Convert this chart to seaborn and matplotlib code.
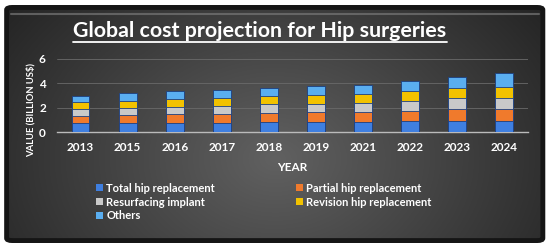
import numpy as np
import pandas as pd
import matplotlib
matplotlib.use("Agg")
import matplotlib.pyplot as plt
import seaborn as sns
from matplotlib.patches import FancyBboxPatch, Patch
from matplotlib.lines import Line2D

years = ["2013", "2015", "2016", "2017", "2018", "2019", "2021", "2022", "2023", "2024"]
series = ["Total hip replacement", "Partial hip replacement", "Resurfacing implant",
          "Revision hip replacement", "Others"]
total_hip = [0.70, 0.72, 0.74, 0.76, 0.80, 0.82, 0.84, 0.88, 0.90, 0.90]
partial_hip = [0.62, 0.65, 0.70, 0.72, 0.76, 0.78, 0.80, 0.88, 0.95, 0.96]
resurfacing = [0.58, 0.62, 0.64, 0.66, 0.70, 0.72, 0.74, 0.82, 0.90, 0.90]
revision = [0.54, 0.58, 0.62, 0.66, 0.68, 0.72, 0.74, 0.80, 0.87, 0.96]
others = [0.54, 0.60, 0.62, 0.64, 0.70, 0.74, 0.76, 0.84, 0.92, 1.08]
colors = ["#3f7fe0", "#f07a2c", "#c9c9c9", "#f2c200", "#5aaef0"]

sns.set_theme(style="dark")
plt.rcParams['font.family'] = ['Lato', 'DejaVu Sans']

fig = plt.figure(figsize=(5.5, 2.48), dpi=100)
fig.patch.set_facecolor("white")

# background panel with gradient
ax_bg = fig.add_axes([0, 0, 1, 1], zorder=-10)
ax_bg.set_xlim(0, 1); ax_bg.set_ylim(0, 1); ax_bg.axis("off")
gx = np.linspace(-1, 1, 400)
gy = np.linspace(-1, 1, 200)
GX, GY = np.meshgrid(gx, gy)
r = np.sqrt((GX * 0.95) ** 2 + ((GY - 0.3) * 0.55) ** 2)
val = 0.38 - 0.20 * np.clip(r, 0, 1.2)
img = np.dstack([val, val, val])
frame = FancyBboxPatch((0.012, 0.03), 0.975, 0.94,
                       boxstyle="round,pad=0,rounding_size=0.01",
                       transform=ax_bg.transAxes, facecolor="none",
                       edgecolor="#151515", linewidth=3.5)
im = ax_bg.imshow(img, extent=[0.012, 0.987, 0.03, 0.97], aspect="auto", zorder=0)
im.set_clip_path(frame)
ax_bg.add_patch(frame)
ax_bg.plot([0.02, 0.98], [0.945, 0.945], color="#777777", lw=1.5, alpha=0.7)

df = pd.DataFrame({"year": years, series[0]: total_hip, series[1]: partial_hip,
                   series[2]: resurfacing, series[3]: revision, series[4]: others})
cum = df[series].cumsum(axis=1)

ax = fig.add_axes([0.1036, 0.4677, 0.8564, 0.2953])
ax.set_facecolor("none")
for i in range(len(series) - 1, -1, -1):
    sns.barplot(x=df["year"], y=cum[series[i]], color=colors[i], ax=ax,
                width=0.38, edgecolor="#1c3f80", linewidth=0.6, saturation=1, zorder=3)
ax.set_ylim(0, 6)
ax.set_yticks([0, 2, 4, 6])
ax.grid(axis="y", color="#6a6a6a", linewidth=0.6, zorder=0)
ax.grid(axis="x", visible=False)
for s in ["top", "right", "left"]:
    ax.spines[s].set_visible(False)
ax.spines["bottom"].set_color("#bbbbbb")
ax.spines["bottom"].set_linewidth(1.0)
ax.tick_params(axis="both", colors="white", length=0, labelsize=8.5)
for lab in ax.get_xticklabels() + ax.get_yticklabels():
    lab.set_fontweight("bold")
    lab.set_color("white")
ax.tick_params(axis="x", pad=7)
ax.tick_params(axis="y", pad=8)
ax.set_xlabel("YEAR", color="white", fontsize=8.5, fontweight="bold", labelpad=7)
ax.set_ylabel("VALUE (BILLION US$)", color="white", fontsize=6.8, fontweight="bold")
ax.yaxis.set_label_coords(-0.045, 0.30)

t = fig.text(0.4727, 0.875, "Global cost projection for Hip surgeries", ha="center", va="center",
             color="white", fontsize=15.4, fontweight="bold")
fig.canvas.draw()
bb = t.get_window_extent().transformed(fig.transFigure.inverted())
fig.add_artist(Line2D([bb.x0, bb.x1], [bb.y0 - 0.004, bb.y0 - 0.004], color="white", lw=1.3))

order = [0, 2, 4, 1, 3]
handles = [Patch(facecolor=colors[i], edgecolor="none") for i in order]
labels = [series[i] for i in order]
leg = fig.legend(handles, labels, ncol=2, loc="upper left", bbox_to_anchor=(0.165, 0.285),
                 frameon=False, fontsize=8, handlelength=0.6, handleheight=0.6,
                 handletextpad=0.3, labelspacing=0.25, columnspacing=7.3, borderpad=0)
for txt in leg.get_texts():
    txt.set_color("white")
    txt.set_fontweight("bold")

fig.savefig("out.png", dpi=100, facecolor="white")
